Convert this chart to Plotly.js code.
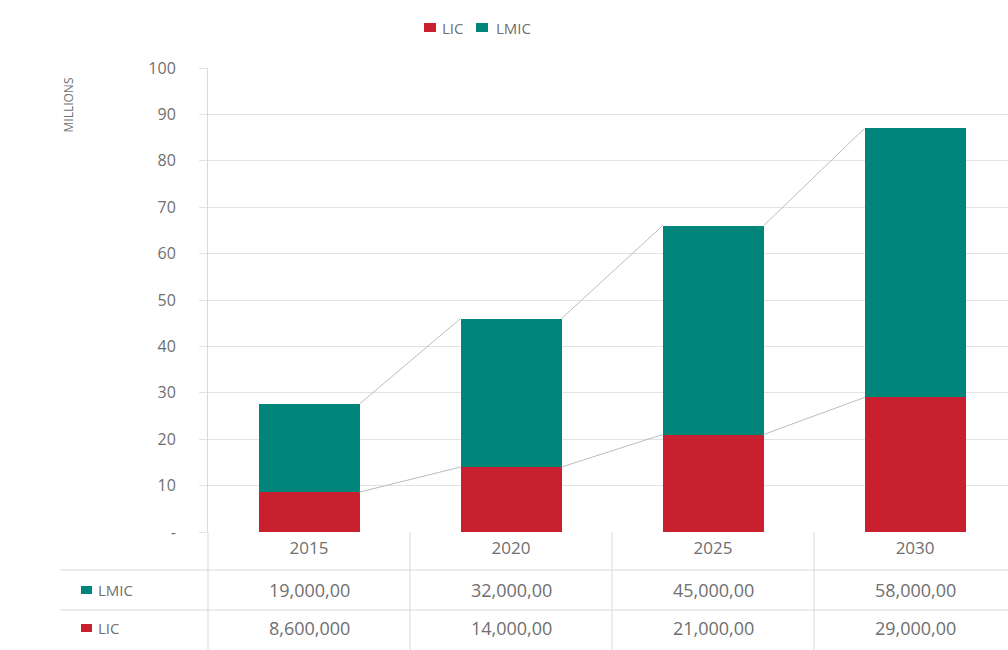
<!DOCTYPE html>
<html>
<head>
<meta charset="utf-8">
<script src="https://cdn.plot.ly/plotly-3.0.1.min.js"></script>
<style>html,body{margin:0;padding:0;background:#fff}#chart{width:1008px;height:650px}</style>
</head>
<body>
<div id="chart"></div>
<script>
// ---- data ----
const years = ["2015", "2020", "2025", "2030"];
const seriesNames = ["LIC", "LMIC"];
const licValues = [8.6, 14, 21, 29];      // millions
const lmicValues = [19, 32, 45, 58];      // millions
const licTableText = ["8,600,000", "14,000,00", "21,000,00", "29,000,00"];
const lmicTableText = ["19,000,00", "32,000,00", "45,000,00", "58,000,00"];
const yTickVals = [0, 10, 20, 30, 40, 50, 60, 70, 80, 90, 100];
const yTickText = ["-", "10", "20", "30", "40", "50", "60", "70", "80", "90", "100"];

// ---- styling / layout ----
const RED = "#c8202f", TEAL = "#00857a", GRID = "#e3e3e3", TXT = "#6f6f6f";
const FONT = "Open Sans, sans-serif";
const W = 1008, H = 650;
const L = 208, R = 0, T = 68, B = 118;
const xr = [-0.5, 3.46];
const barW = 0.5;
const plotW = W - L - R, plotH = H - T - B;
const px2x = p => (p - L) / plotW;            // pixel -> paper x
const px2y = p => (H - B - p) / plotH;        // pixel -> paper y

const xIdx = years.map((_, i) => i);
const totals = licValues.map((v, i) => v + lmicValues[i]);

function seriesLine(vals) {
  const xs = [], ys = [];
  for (let i = 0; i < vals.length - 1; i++) {
    xs.push(i + barW / 2, i + 1 - barW / 2, null);
    ys.push(vals[i], vals[i + 1], null);
  }
  return {x: xs, y: ys, type: "scatter", mode: "lines", showlegend: false,
          hoverinfo: "skip", line: {color: "#bdbdbd", width: 1}};
}

const traces = [
  {x: xIdx, y: licValues, type: "bar", name: seriesNames[0], marker: {color: RED}, width: barW},
  {x: xIdx, y: lmicValues, type: "bar", name: seriesNames[1], marker: {color: TEAL}, width: barW},
  seriesLine(licValues),
  seriesLine(totals)
];

const shapes = [];
const annotations = [];
const lineStyle = {color: "#d9d9d9", width: 1};
// top legend (custom drawn for tight spacing)
[[424, 440, RED, seriesNames[0]], [476, 494, TEAL, seriesNames[1]]].forEach(([kx, tx, col, name]) => {
  shapes.push({type: "rect", xref: "paper", yref: "paper", line: {width: 0}, fillcolor: col,
    x0: px2x(kx), x1: px2x(kx + 12), y0: px2y(32), y1: px2y(23)});
  annotations.push({xref: "paper", yref: "paper", x: px2x(tx), y: px2y(28), xanchor: "left",
    yanchor: "middle", showarrow: false, text: name, font: {family: FONT, size: 15, color: TXT}});
});
// table horizontal lines
[570, 610].forEach(py => shapes.push({type: "line", xref: "paper", yref: "paper",
  x0: px2x(60), x1: px2x(W), y0: px2y(py), y1: px2y(py), line: lineStyle}));
// table vertical lines (category boundaries)
[-0.5, 0.5, 1.5, 2.5].forEach(b => {
  const xp = (b - xr[0]) / (xr[1] - xr[0]);
  shapes.push({type: "line", xref: "paper", yref: "paper", x0: xp, x1: xp,
    y0: px2y(532), y1: px2y(H), line: lineStyle});
});
// table legend keys
[[590, TEAL, seriesNames[1]], [628, RED, seriesNames[0]]].forEach(([py, col, name]) => {
  shapes.push({type: "rect", xref: "paper", yref: "paper", line: {width: 0}, fillcolor: col,
    x0: px2x(81), x1: px2x(92), y0: px2y(py - 4), y1: px2y(py + 4)});
  annotations.push({xref: "paper", yref: "paper", x: px2x(96), y: px2y(py), xanchor: "left",
    yanchor: "middle", showarrow: false, text: name, font: {family: FONT, size: 15, color: TXT}});
});
// table values
years.forEach((_, i) => {
  annotations.push({xref: "x", yref: "paper", x: i, y: px2y(590), showarrow: false,
    yanchor: "middle", text: lmicTableText[i], font: {family: FONT, size: 18, color: TXT}});
  annotations.push({xref: "x", yref: "paper", x: i, y: px2y(628), showarrow: false,
    yanchor: "middle", text: licTableText[i], font: {family: FONT, size: 18, color: TXT}});
});
// y-axis title
annotations.push({xref: "paper", yref: "paper", x: px2x(68), y: px2y(76), textangle: -90,
  xanchor: "center", yanchor: "top", showarrow: false, text: "MILLIONS",
  font: {family: FONT, size: 12, color: TXT}});

const layout = {
  width: W, height: H,
  margin: {l: L, r: R, t: T, b: B},
  paper_bgcolor: "#fff", plot_bgcolor: "#fff",
  barmode: "stack",
  showlegend: false,
  xaxis: {range: xr, tickvals: xIdx, ticktext: years, showgrid: false, zeroline: false,
    showline: false, ticks: "", tickfont: {family: FONT, size: 17, color: TXT}, ticklabelstandoff: 4,
    fixedrange: true},
  yaxis: {range: [0, 100], tickvals: yTickVals, ticktext: yTickText, showgrid: true,
    gridcolor: GRID, gridwidth: 1, zeroline: false, showline: true, linecolor: "#d9d9d9",
    ticks: "outside", ticklen: 8, tickcolor: GRID, ticklabelstandoff: 20,
    tickfont: {family: FONT, size: 16, color: TXT}, fixedrange: true},
  shapes: shapes,
  annotations: annotations,
  font: {family: FONT, color: TXT}
};

Plotly.newPlot("chart", traces, layout, {displayModeBar: false, staticPlot: true});
</script>
</body>
</html>
